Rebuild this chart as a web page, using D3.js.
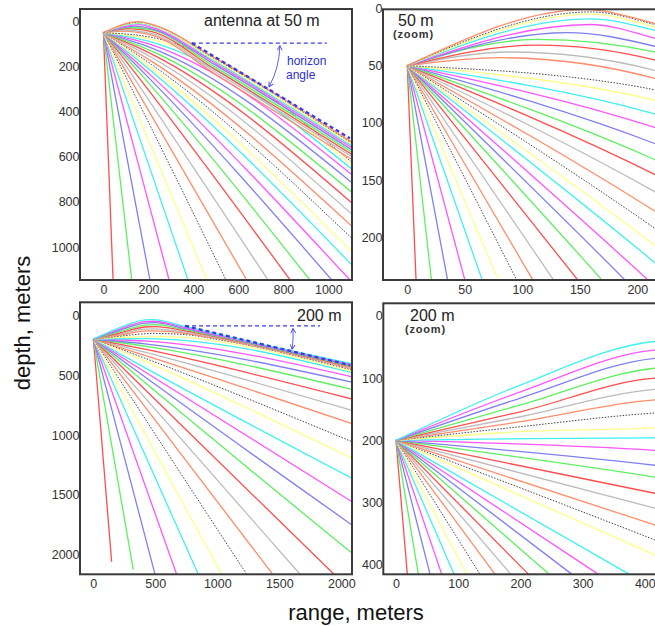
<!DOCTYPE html>
<html>
<head>
<meta charset="utf-8">
<script src="https://cdn.jsdelivr.net/npm/d3@7"></script>
<style>
  body { margin: 0; background: #fff; }
  svg { font-family: "Liberation Sans", Arial, sans-serif; }
</style>
</head>
<body>
<svg width="655" height="626"></svg>
<script>

// ray colours, repeating in launch order (steepest down first)
var rayColors = ["#ff4d4d", "#5fef5f", "#8080f0", "#ff55ff", "#40f0f0", "#ffff88", "#444444", "#ff8c6a", "#bcbcbc"];

// antenna at 50 m : [range, depth] points read along each ray
var rays50 = [
  [[0,50],[7.6,237],[43,1146]],
  [[0,50],[21,237],[126,1146]],
  [[0,50],[35,237],[207,1146]],
  [[0,50],[50,237],[292,1146]],
  [[0,50],[65,237],[376,1146]],
  [[0,50],[79,237],[460,1146]],
  [[0,50],[95,237],[545,1146]],
  [[0,50],[109,237],[637,1146]],
  [[0,50],[127,237],[732,1146]],
  [[0,50],[148,237],[830,1146]],
  [[0,50],[169,237],[918,1146]],
  [[0,50],[189,237],[1015,1146]],
  [[0,50],[209,237],[1096,1146]],
  [[0,50],[215,222],[1105,1080]],
  [[0,50],[215,207],[1105,1020]],
  [[0,50],[215,192],[1105,962]],
  [[0,50],[215,177],[1105,908]],
  [[0,50],[215,160],[1105,855]],
  [[0,50],[215,145],[1105,805]],
  [[0,50],[215,132],[1105,758]],
  [[0,50],[215,118],[1105,715]],
  [[0,50],[215,104],[1105,680]],
  [[0,50],[215,92],[1105,655]],
  [[0,50],[215,80],[1105,638]],
  [[0,50],[215,71],[1105,625]],
  [[0,50],[80,43],[215,61],[500,235],[1105,612]],
  [[0,50],[90,38],[215,54],[500,225],[1105,600]],
  [[0,50],[113,32],[215,45],[500,215],[1105,590]],
  [[0,50],[113,27],[215,38],[500,205],[1105,580]],
  [[0,50],[139,21],[215,33],[500,195],[1105,570]],
  [[0,50],[159,14],[215,26],[500,187],[1105,560]],
  [[0,50],[159,9],[215,19],[500,180],[1105,552]],
  [[0,50],[160,5],[215,16],[500,174],[1105,545]],
  [[0,50],[160,3],[215,14],[500,168],[1105,540]],
  [[0,50],[155,1],[215,13],[500,164],[1105,535]]
];

// antenna at 200 m
var rays200 = [
  [[0,200],[18.2,415],[148,2056]],
  [[0,200],[35.9,415],[323,2125]],
  [[0,200],[54.7,415],[498,2161]],
  [[0,200],[73.5,415],[672,2161]],
  [[0,200],[93.2,415],[847,2161]],
  [[0,200],[113.7,415],[1035,2161]],
  [[0,200],[135,415],[1237,2161]],
  [[0,200],[159,415],[1447,2161]],
  [[0,200],[184.4,415],[1667,2161]],
  [[0,200],[212.7,415],[1941,2161]],
  [[0,200],[246,415],[2086,1985]],
  [[0,200],[282.5,415],[2086,1750]],
  [[0,200],[325,415],[2086,1556]],
  [[0,200],[374.6,415],[2086,1361]],
  [[0,200],[416,384],[2086,1194]],
  [[0,200],[416,360],[2086,1056]],
  [[0,200],[416,336],[2086,905]],
  [[0,200],[416,309],[2086,795]],
  [[0,200],[416,285],[2086,700]],
  [[0,200],[416,259],[2086,620]],
  [[0,200],[416,240],[2086,560]],
  [[0,200],[416,216],[2086,515]],
  [[0,200],[416,196],[2086,480]],
  [[0,200],[200,186],[416,180],[450,178],[740,185],[1000,220],[2086,470]],
  [[0,200],[200,178],[416,156],[470,153],[740,163],[1000,204],[2086,458]],
  [[0,200],[200,170],[416,135],[480,132],[740,152],[1000,197],[2086,449]],
  [[0,200],[200,162],[416,118],[490,115],[740,142],[1000,190],[2086,441]],
  [[0,200],[200,154],[416,100],[500,97],[740,132],[1000,184],[2086,433]],
  [[0,200],[200,143],[416,84],[500,80],[740,122],[1000,178],[2086,426]],
  [[0,200],[200,132],[416,68],[500,64],[740,113],[1000,172],[2086,419]],
  [[0,200],[200,122],[416,55],[490,52],[740,105],[1000,167],[2086,412]],
  [[0,200],[200,111],[416,41],[480,38],[740,95],[1000,160],[2086,405]]
];

// tick labels
var ticksWide50 = [0, 200, 400, 600, 800, 1000];
var ticksZoom50 = [0, 50, 100, 150, 200];
var ticksWide200 = [0, 500, 1000, 1500, 2000];
var ticksZoom200 = [0, 100, 200, 300, 400];

// horizon angle construction: vertex, end of flat line, end of slant line
var horizon50 = [[393, 96], [993, 96], [1096, 518]];
var horizon200 = [[740, 91], [1828, 91], [2069, 417]];

var svg = d3.select("svg");

var defs = svg.append("defs");
defs.append("marker")
    .attr("id", "tip")
    .attr("viewBox", "0 0 10 10")
    .attr("refX", 8).attr("refY", 5)
    .attr("markerWidth", 6).attr("markerHeight", 6)
    .attr("orient", "auto-start-reverse")
    .append("path")
    .attr("d", "M1,1 L9,5 L1,9")
    .attr("fill", "none")
    .attr("stroke", "#4040e0")
    .attr("stroke-width", 1.5);

var panels = [
  { id: "p1", rays: rays50, xd: [-104, 1105], yd: [-55, 1146], xr: [80, 352], yr: [9, 280],
    xt: ticksWide50, yt: ticksWide50, title: "antenna at 50 m", tx: 204, ty: 26,
    horizon: horizon50, arcR: 88 },
  { id: "p2", rays: rays50, xd: [-21.1, 219.7], yd: [0.7, 237.3], xr: [383, 660], yr: [9.3, 280],
    xt: ticksZoom50, yt: ticksZoom50, title: "50 m", tx: 398, ty: 26, zoom: true },
  { id: "p3", rays: rays200, xd: [-107, 2086], yd: [-106, 2161], xr: [80, 352], yr: [302.3, 574.3],
    xt: ticksWide200, yt: ticksWide200, title: "200 m", tx: 297, ty: 321,
    horizon: horizon200, arcR: 108 },
  { id: "p4", rays: rays200, xd: [-20.4, 424.4], yd: [-20.4, 415.3], xr: [383.3, 660], yr: [303.3, 574.3],
    xt: ticksZoom200, yt: ticksZoom200, title: "200 m", tx: 410, ty: 321, zoom: true }
];

panels.forEach(function (p) {
  var x = d3.scaleLinear().domain(p.xd).range(p.xr);
  var y = d3.scaleLinear().domain(p.yd).range(p.yr);
  var w = p.xr[1] - p.xr[0], h = p.yr[1] - p.yr[0];

  defs.append("clipPath").attr("id", "clip-" + p.id)
      .append("rect").attr("x", p.xr[0]).attr("y", p.yr[0]).attr("width", w).attr("height", h);

  var g = svg.append("g");

  var line = d3.line()
      .x(function (d) { return x(d[0]); })
      .y(function (d) { return y(d[1]); })
      .curve(d3.curveMonotoneX);

  g.append("g")
      .attr("clip-path", "url(#clip-" + p.id + ")")
      .selectAll("path.ray").data(p.rays).enter()
      .append("path")
      .attr("class", "ray")
      .attr("fill", "none")
      .attr("stroke", function (d, i) { return rayColors[i % rayColors.length]; })
      .attr("stroke-width", function (d, i) { return i % 9 === 6 ? 1 : 1.3; })
      .attr("stroke-dasharray", function (d, i) { return i % 9 === 6 ? "1.5,1.5" : null; })
      .attr("d", line);

  // axes
  var xa = g.append("g")
      .attr("transform", "translate(0," + p.yr[1] + ")")
      .call(d3.axisBottom(x).tickValues(p.xt).tickFormat(d3.format("d")).tickSize(0).tickPadding(5));
  var ya = g.append("g")
      .attr("transform", "translate(" + p.xr[0] + ",0)")
      .call(d3.axisLeft(y).tickValues(p.yt).tickFormat(d3.format("d")).tickSize(0).tickPadding(0.5));
  [xa, ya].forEach(function (a) {
    a.select(".domain").remove();
    a.selectAll("text").attr("font-size", 12.5).attr("fill", "#333")
        .style("font-family", "'Liberation Sans', Arial, sans-serif");
  });

  // frame
  g.append("rect")
      .attr("x", p.xr[0]).attr("y", p.yr[0]).attr("width", w).attr("height", h)
      .attr("fill", "none").attr("stroke", "#3a3a3a").attr("stroke-width", 2);

  // titles
  g.append("text")
      .attr("x", p.tx).attr("y", p.ty)
      .attr("font-size", 16).attr("fill", "#222")
      .text(p.title);
  if (p.zoom) {
    g.append("text")
        .attr("x", p.tx - 5).attr("y", p.ty + 12)
        .attr("font-size", 11).attr("font-weight", "bold").attr("fill", "#333")
        .attr("letter-spacing", 0.8)
        .text("(zoom)");
  }

  // horizon angle
  if (p.horizon) {
    var v = [x(p.horizon[0][0]), y(p.horizon[0][1])];
    var f = [x(p.horizon[1][0]), y(p.horizon[1][1])];
    var s = [x(p.horizon[2][0]), y(p.horizon[2][1])];
    g.append("path")
        .attr("d", "M" + v + "L" + f)
        .attr("stroke", "#3b3be6").attr("stroke-width", 1.3)
        .attr("stroke-dasharray", "4,3").attr("fill", "none");
    g.append("path")
        .attr("d", "M" + v + "L" + s)
        .attr("stroke", "#3b3be6").attr("stroke-width", 2.3)
        .attr("stroke-dasharray", "4,3").attr("fill", "none");
    var a = Math.atan2(s[1] - v[1], s[0] - v[0]);
    var r = p.arcR;
    g.append("path")
        .attr("d", "M" + (v[0] + r) + "," + (v[1] + 3) +
            "A" + r + "," + r + " 0 0 1 " + (v[0] + r * Math.cos(a) + 2) + "," + (v[1] + r * Math.sin(a) - 2))
        .attr("stroke", "#6060e8").attr("stroke-width", 1)
        .attr("fill", "none")
        .attr("marker-start", "url(#tip)")
        .attr("marker-end", "url(#tip)");
  }
});

// horizon angle text
svg.append("text").attr("x", 287).attr("y", 65)
    .attr("font-size", 12).attr("fill", "#2f2fd8").text("horizon");
svg.append("text").attr("x", 286).attr("y", 79)
    .attr("font-size", 12).attr("fill", "#2f2fd8").text("angle");

// axis titles
svg.append("text")
    .attr("transform", "translate(30,323) rotate(-90)")
    .attr("text-anchor", "middle")
    .attr("font-size", 22).attr("fill", "#111")
    .text("depth, meters");
svg.append("text")
    .attr("x", 356).attr("y", 620)
    .attr("text-anchor", "middle")
    .attr("font-size", 22).attr("fill", "#111")
    .text("range, meters");

</script>
</body>
</html>
